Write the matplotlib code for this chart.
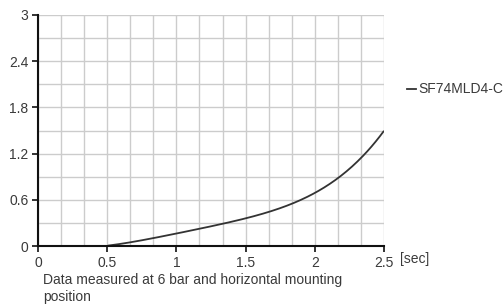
import matplotlib
matplotlib.use("Agg")
import matplotlib.pyplot as plt
import numpy as np

x_vals = [0.5, 0.75, 1.0, 1.17, 1.5, 1.75, 2.0, 2.16, 2.33, 2.5]
y_vals = [0.0, 0.085, 0.16, 0.215, 0.36, 0.50, 0.69, 0.87, 1.13, 1.50]
series_name = "SF74MLD4-C"
x_ticks = [0, 0.5, 1, 1.5, 2, 2.5]
x_tick_labels = ["0", "0.5", "1", "1.5", "2", "2.5"]
y_ticks = [0, 0.6, 1.2, 1.8, 2.4, 3]
y_tick_labels = ["0", "0.6", "1.2", "1.8", "2.4", "3"]
note_lines = ["Data measured at 6 bar and horizontal mounting", "position"]

plt.rcParams['font.family'] = ['Liberation Sans', 'DejaVu Sans']

fig = plt.figure(figsize=(5.04, 3.04), dpi=100)
ax = fig.add_axes([38/504, 1 - 246/304, 346/504, 231/304])

xs = np.linspace(x_vals[0], x_vals[-1], 200)
coef = np.polyfit(x_vals, y_vals, 4)
ys = np.polyval(coef, xs)
ys[0] = 0
ax.plot(xs, ys, color="#333333", lw=1.3, solid_capstyle="butt")

ax.set_xlim(0, 2.5)
ax.set_ylim(0, 3)
ax.set_xticks(x_ticks)
ax.set_xticklabels(x_tick_labels)
ax.set_yticks(y_ticks)
ax.set_yticklabels(y_tick_labels)
ax.set_xticks(np.arange(0, 2.5001, 2.5/15), minor=True)
ax.set_yticks(np.arange(0, 3.0001, 0.3), minor=True)
ax.grid(which="both", color="#cccccc", lw=1.0)
ax.set_axisbelow(True)
ax.tick_params(which="minor", length=0)
ax.tick_params(which="major", length=4, width=1.2, color="#111111",
               labelsize=10, labelcolor="#3a3a3a")
ax.tick_params(axis="y", pad=3)
ax.tick_params(axis="x", pad=3.5)
for s in ["top", "right"]:
    ax.spines[s].set_visible(False)
for s in ["left", "bottom"]:
    ax.spines[s].set_color("#111111")
    ax.spines[s].set_linewidth(1.5)

fig.text(400/504, 1 - 259.5/304, "[sec]", fontsize=10, color="#3a3a3a", va="center", ha="left")
fig.text(43/504, 1 - 284/304, note_lines[0], fontsize=10, color="#3a3a3a",
         va="baseline", ha="left")
fig.text(43/504, 1 - 301/304, note_lines[1], fontsize=10, color="#3a3a3a",
         va="baseline", ha="left")

fig.add_artist(plt.Line2D([407/504, 416/504], [1 - 89/304, 1 - 89/304], color="#333333", lw=1.3))
fig.text(418/504, 1 - 89/304, series_name, fontsize=10, color="#3a3a3a", va="center", ha="left")

fig.savefig("out.png", dpi=100)
